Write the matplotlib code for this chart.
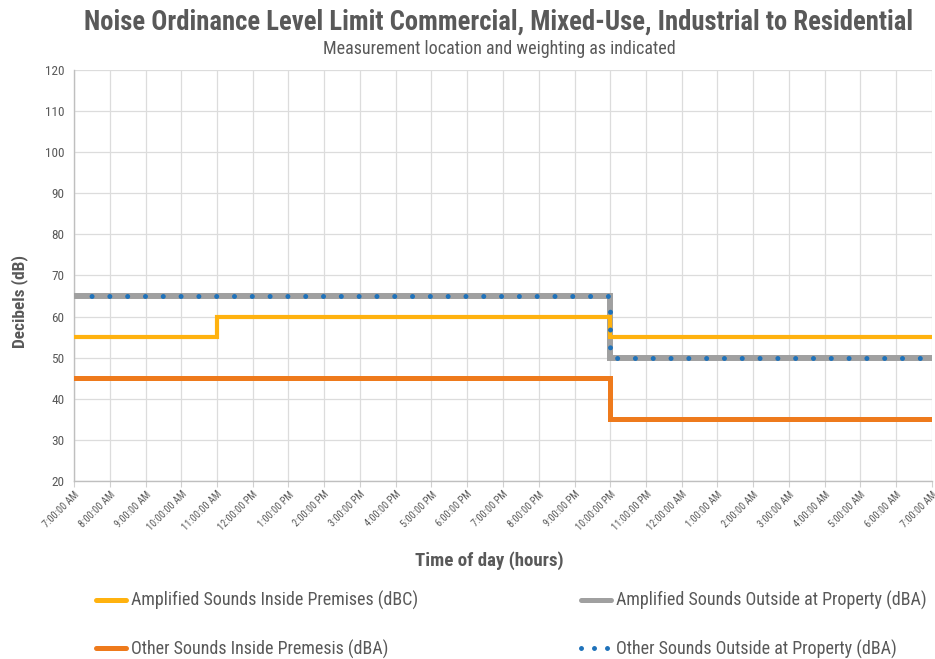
import matplotlib
matplotlib.use("Agg")
import matplotlib.pyplot as plt
from matplotlib.lines import Line2D

plt.rcParams['font.family'] = ['Roboto Condensed', 'DejaVu Sans']

# ---- data ----
hours = list(range(7, 32))  # 7:00 AM to 7:00 AM next day
tick_labels = ["7:00:00 AM", "8:00:00 AM", "9:00:00 AM", "10:00:00 AM", "11:00:00 AM",
               "12:00:00 PM", "1:00:00 PM", "2:00:00 PM", "3:00:00 PM", "4:00:00 PM",
               "5:00:00 PM", "6:00:00 PM", "7:00:00 PM", "8:00:00 PM", "9:00:00 PM",
               "10:00:00 PM", "11:00:00 PM", "12:00:00 AM", "1:00:00 AM", "2:00:00 AM",
               "3:00:00 AM", "4:00:00 AM", "5:00:00 AM", "6:00:00 AM", "7:00:00 AM"]

amp_inside_x = [7, 11, 22, 31]
amp_inside_y = [55, 60, 55, 55]
other_inside_x = [7, 22, 31]
other_inside_y = [45, 35, 35]
amp_outside_x = [7, 22, 31]
amp_outside_y = [65, 50, 50]
other_outside_x = [7, 22, 31]
other_outside_y = [65, 50, 50]

labels = ["Amplified Sounds Inside Premises (dBC)",
          "Other Sounds Inside Premesis (dBA)",
          "Amplified Sounds Outside at Property (dBA)",
          "Other Sounds Outside at Property (dBA)"]

c_yellow = "#FFB20F"
c_orange = "#EE7A1C"
c_gray = "#A0A0A0"
c_blue = "#1F72BA"
txt = "#595959"

fig = plt.figure(figsize=(9.35, 6.59), dpi=100)
W, H = 935, 659
ax_l, ax_r, ax_t, ax_b = 74, 932, 70, 481
ax = fig.add_axes([ax_l / W, 1 - ax_b / H, (ax_r - ax_l) / W, (ax_b - ax_t) / H])

ax.plot(amp_outside_x, amp_outside_y, drawstyle='steps-post', color=c_gray, lw=4.3,
        solid_joinstyle='miter', zorder=3)
ax.plot(amp_inside_x, amp_inside_y, drawstyle='steps-post', color=c_yellow, lw=3.0,
        solid_joinstyle='miter', zorder=3)
ax.plot(other_inside_x, other_inside_y, drawstyle='steps-post', color=c_orange, lw=3.6,
        solid_joinstyle='miter', zorder=3)
dot_lw = 3.6
period = 17.8 / (100 / 72) / dot_lw
ax.plot(other_outside_x, other_outside_y, drawstyle='steps-post', color=c_blue, lw=dot_lw,
        linestyle=(0.05, (0.001, period)), dash_capstyle='round', zorder=4)

ax.set_xlim(7, 31)
ax.set_ylim(20, 120)
ax.set_xticks(hours)
ax.set_xticklabels(tick_labels, rotation=45, ha='right', rotation_mode='anchor',
                   fontsize=7.4, color=txt)
ax.set_yticks(range(20, 121, 10))
ax.tick_params(axis='y', labelsize=9.5, labelcolor=txt, length=0, pad=7)
ax.tick_params(axis='x', length=4, color="#D0D0D0", pad=2)
ax.grid(True, color="#DCDCDC", lw=0.9, zorder=0)
for s in ['top', 'right']:
    ax.spines[s].set_visible(False)
for s in ['left', 'bottom']:
    ax.spines[s].set_color("#BFBFBF")
    ax.spines[s].set_linewidth(1.0)

ax.set_xlabel("Time of day (hours)", fontsize=13.6, fontweight='bold', color=txt)
ax.set_ylabel("Decibels (dB)", fontsize=12.5, fontweight='bold', color=txt)
ax.xaxis.set_label_coords((489 - ax_l) / (ax_r - ax_l), (ax_b - 561) / (ax_b - ax_t))
ax.xaxis.label.set_va('center')
ax.yaxis.set_label_coords((20 - ax_l) / (ax_r - ax_l), (ax_b - 301) / (ax_b - ax_t))
ax.yaxis.label.set_va('center')

fig.text(499 / W, 1 - 30 / H, "Noise Ordinance Level Limit Commercial, Mixed-Use, Industrial to Residential",
         ha='center', va='baseline', fontsize=19.2, fontweight='bold', color=txt)
fig.text(499 / W, 1 - 54 / H, "Measurement location and weighting as indicated",
         ha='center', va='baseline', fontsize=13, color=txt)

h_yellow = Line2D([], [], color=c_yellow, lw=3.6, solid_capstyle='round')
h_orange = Line2D([], [], color=c_orange, lw=3.6, solid_capstyle='round')
h_gray = Line2D([], [], color=c_gray, lw=3.6, solid_capstyle='round')
h_blue = Line2D([], [], color=c_blue, lw=3.6, linestyle=(0, (0.001, 2.6)), dash_capstyle='round')

leg_kw = dict(frameon=False, fontsize=13, labelcolor=txt, handlelength=1.65,
              handletextpad=0.3, labelspacing=1.65, loc='center left', borderpad=0,
              borderaxespad=0)
l1 = fig.legend([h_yellow, h_orange], labels[:2], bbox_to_anchor=(96 / W, 1 - 625 / H), **leg_kw)
l2 = fig.legend([h_gray, h_blue], labels[2:], bbox_to_anchor=(581 / W, 1 - 625 / H), **leg_kw)

fig.savefig("out.png", dpi=100)
